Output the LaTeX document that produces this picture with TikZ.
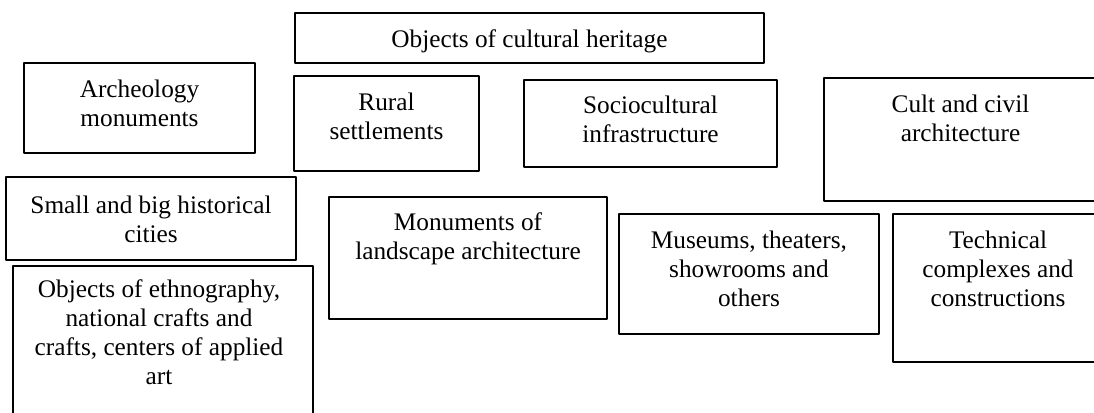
\documentclass[tikz,border=0pt]{standalone}
\usepackage{fontspec}
\setmainfont{Liberation Serif}
\usetikzlibrary{positioning}
\tikzset{
	o/.style={draw, line width=1.8pt, outer sep=0pt, inner sep=0pt, anchor=north west},
	chu/.style={inner sep=0pt, align=center, font=\fontsize{25.3}{29}\selectfont}
}
\newcommand{\dau}{\rule{0pt}{20pt}}
\begin{document}
\begin{tikzpicture}[x=1pt, y=-1pt, line join=round]
			%Khung ảnh.
			\useasboundingbox (0,0) rectangle (1094,412);
			\clip (0,0) rectangle (1094,412);
			%Các ô.
			\node[o, minimum width=469pt, minimum height=50pt] (heritage) at (295,13) {};
			\node[o, minimum width=231pt, minimum height=90pt] (archeo) at (24,63) {};
			\node[o, minimum width=185pt, minimum height=95pt] (rural) at (294,76) {};
			\node[o, minimum width=253pt, minimum height=87pt] (socio) at (524,80) {};
			\node[o, minimum width=273pt, minimum height=123pt] (cult) at (824,78) {};
			\node[o, minimum width=290pt, minimum height=83pt] (cities) at (6,177) {};
			\node[o, minimum width=278pt, minimum height=122pt] (landscape) at (329,197) {};
			\node[o, minimum width=260pt, minimum height=120pt] (museums) at (619,214) {};
			\node[o, minimum width=210pt, minimum height=148pt] (technical) at (893,214) {};
			\node[o, minimum width=300pt, minimum height=160pt] (ethno) at (13,266) {};
			%Chữ trong ô.
			\node[chu, below=14pt of heritage.north] (heritage-t) {\dau Objects of cultural heritage};
			\node[chu, below=14pt of archeo.north] (archeo-t) {\dau Archeology\\monuments};
			\node[chu, below=14pt of rural.north] (rural-t) {\dau Rural\\settlements};
			\node[chu, below=13pt of socio.north] (socio-t) {\dau Sociocultural\\infrastructure};
			\node[chu, below=14pt of cult.north] (cult-t) {\dau Cult and civil\\architecture};
			\node[chu, below=16pt of cities.north] (cities-t) {\dau Small and big historical\\cities};
			\node[chu, below=13pt of landscape.north] (landscape-t) {\dau Monuments of\\landscape architecture};
			\node[chu, below=14pt of museums.north] (museums-t) {\dau Museums, theaters,\\showrooms and\\others};
			\node[chu, below=14pt of technical.north] (technical-t) {\dau Technical\\complexes and\\constructions};
			\node[chu, below=11pt of ethno.north, xshift=-4pt] (ethno-t) {\dau Objects of ethnography,\\national crafts and\\crafts, centers of applied\\art};
\end{tikzpicture}
\end{document}
